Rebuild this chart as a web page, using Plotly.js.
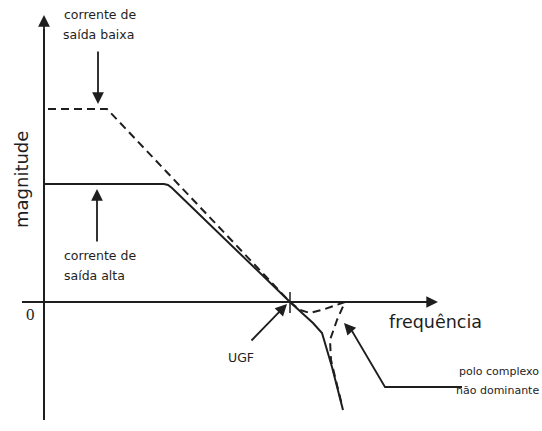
<!DOCTYPE html>
<html lang="en">
<head>
    <meta charset="UTF-8">
    <title>Resposta em frequência</title>
    <script src='https://cdn.plot.ly/plotly-3.0.0.min.js'></script>
    <style>
        html, body { margin: 0; padding: 0; background: #fff; }
        #plot { width: 542px; height: 431px; }
    </style>
</head>
<body>
    <div id="plot"></div>

    <script>
        // diagram coordinates (x: frequency, y: magnitude drawn downwards like the sketch)
        const lowX  = [48, 107, 290, 300, 310, 325, 345, 337, 330, 331, 337, 342];
        const lowY  = [109, 109, 302, 310, 313, 309, 302, 320, 340, 360, 385, 405];
        const highX = [44, 164, 168, 172, 290, 313, 322, 332, 343];
        const highY = [184, 184, 185, 188, 302, 323, 333, 367, 410];

        const axisY = [15, 420];      // vertical axis ends
        const axisX = [22, 438];      // horizontal axis ends
        const axisPos = 44;
        const zeroLevel = 302;
        const ugf = 290;

        const poleLeaderX = [462, 385, 352];
        const poleLeaderY = [387, 387, 331];

        const ink = '#1e1e1e';
        const txt = '"DejaVu Sans", sans-serif';

        const traces = [
            {x: [axisPos, axisPos], y: [axisY[0] + 14, axisY[1]], mode: 'lines',
             line: {color: ink, width: 2}, hoverinfo: 'skip'},
            {x: [axisX[0], axisX[1] - 16], y: [zeroLevel, zeroLevel], mode: 'lines',
             line: {color: ink, width: 2}, hoverinfo: 'skip'},
            {x: [ugf, ugf], y: [292, 313], mode: 'lines', line: {color: ink, width: 1.5}, hoverinfo: 'skip'},
            {x: lowX, y: lowY, mode: 'lines', line: {color: ink, width: 2, dash: '8px,5px'}, hoverinfo: 'skip'},
            {x: highX, y: highY, mode: 'lines', line: {color: ink, width: 2}, hoverinfo: 'skip'},
            {x: poleLeaderX, y: poleLeaderY, mode: 'lines', line: {color: ink, width: 1.8}, hoverinfo: 'skip'}
        ];

        function arrow(x, y, ax, ay) {
            return {x: x, y: y, ax: ax, ay: ay, xref: 'x', yref: 'y', axref: 'x', ayref: 'y',
                    text: '', showarrow: true, arrowhead: 2, arrowsize: 1.3, arrowwidth: 1.8, arrowcolor: ink};
        }
        function label(text, x, y, size, font, anchor) {
            return {x: x, y: y, xref: 'x', yref: 'y', text: text, showarrow: false,
                    xanchor: anchor || 'center', yanchor: 'middle',
                    font: {family: font || txt, size: size, color: ink}};
        }

        const layout = {
            width: 542, height: 431,
            margin: {l: 0, r: 0, t: 0, b: 0},
            paper_bgcolor: '#fff', plot_bgcolor: '#fff',
            showlegend: false,
            xaxis: {range: [0, 542], visible: false, fixedrange: true},
            yaxis: {range: [431, 0], visible: false, fixedrange: true},
            annotations: [
                arrow(axisPos, axisY[0], axisPos, axisY[0] + 16),
                arrow(axisX[1], zeroLevel, axisX[1] - 18, zeroLevel),
                arrow(98, 104, 98, 50),
                arrow(97, 189, 97, 243),
                arrow(287, 304, 250, 342),
                arrow(344, 323, 353, 333),
                label('corrente de', 100, 14, 12.5),
                label('saída baixa', 98, 34, 12.5),
                label('corrente de', 100, 255, 12.5),
                label('saída alta', 94, 275, 12.5),
                label('UGF', 241, 357, 12.5),
                label('frequência', 435, 322, 17.5),
                label('polo complexo', 541, 371, 11, txt, 'right'),
                label('não dominante', 541, 390, 11, txt, 'right'),
                label('0', 30, 314, 17, '"Liberation Serif", serif'),
                Object.assign(label('magnitude', 21, 180, 18), {textangle: -90})
            ]
        };

        Plotly.newPlot('plot', traces, layout, {staticPlot: true});
    </script>
</body>
</html>
